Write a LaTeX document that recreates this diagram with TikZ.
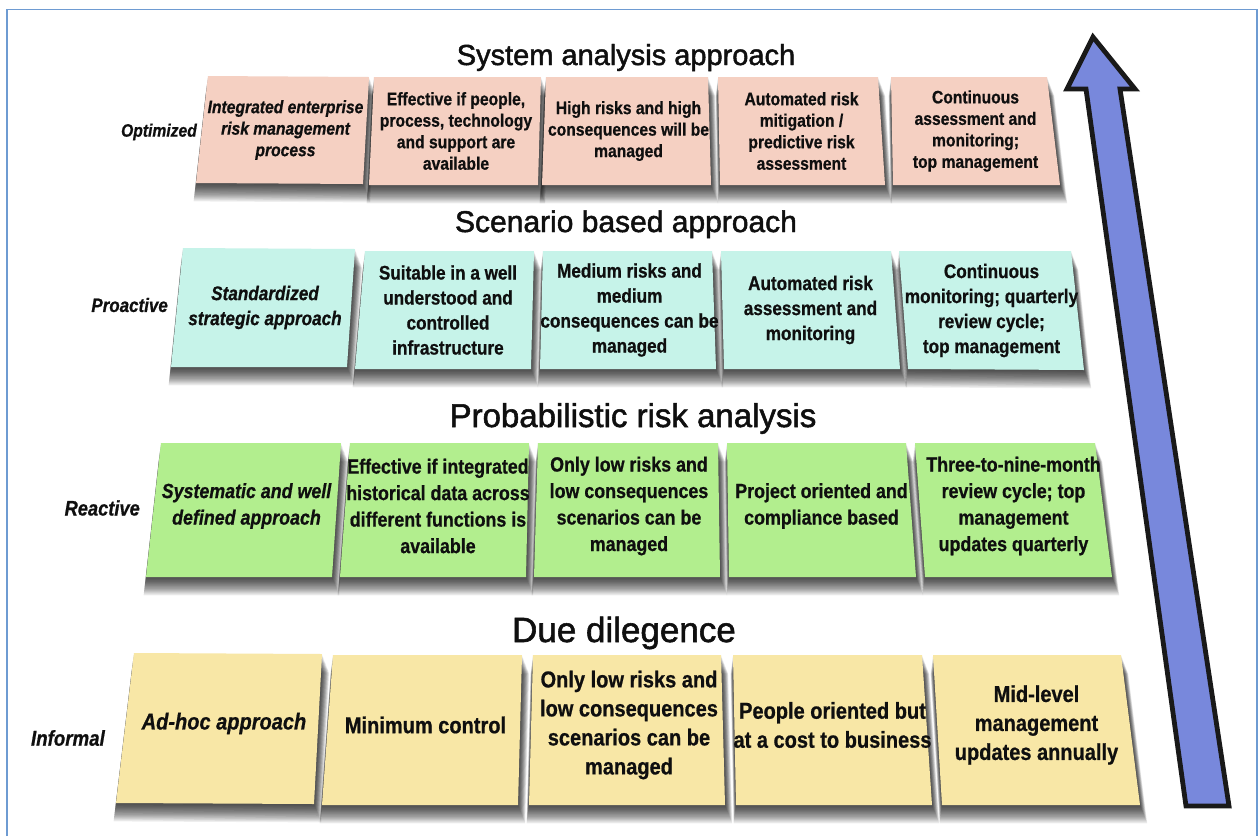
\documentclass[tikz,border=0pt]{standalone}
\usepackage{fontspec}
\setmainfont{Liberation Sans}
\newfontfamily\bxfont[FakeStretch=0.87,FakeBold=0.7]{Liberation Sans}
\newfontfamily\ttlfont[FakeBold=1.6]{Liberation Sans}
\usetikzlibrary{calc}
\definecolor{pinkc}{RGB}{245,208,194}
\definecolor{cyanc}{RGB}{198,243,233}
\definecolor{greenc}{RGB}{178,238,142}
\definecolor{yellowc}{RGB}{248,231,166}
\definecolor{arrowc}{RGB}{120,136,220}
\definecolor{framec}{RGB}{110,155,210}
\definecolor{inkc}{RGB}{15,15,15}
\newcommand\mcard[8]{%
  \foreach \k in {1,...,16}{%
    \fill[black,opacity=0.065] ($(#3)+(-0.15*\k,1.15*\k)$) -- ($(#4)+(0.45*\k,1.15*\k)$) -- ($(#5)+(0.45*\k,1.15*\k)$) -- ($(#6)+(-0.15*\k,1.15*\k)$) -- cycle;}
  \fill[#2] (#3) -- (#4) -- (#5) -- (#6) -- cycle;
  \node[#7] (#1) at ($(#3)!0.5!(#5)$) {#8};
}
\tikzset{
  card/.style={align=center, text=inkc, inner sep=0pt},
  fa/.style={card, font=\bxfont\bfseries\fontsize{18}{21.5}\selectfont},
  fai/.style={card, font=\bxfont\bfseries\itshape\fontsize{18}{21.5}\selectfont},
  fb/.style={card, font=\bxfont\bfseries\fontsize{19.7}{25}\selectfont},
  fbi/.style={card, font=\bxfont\bfseries\itshape\fontsize{19.7}{25}\selectfont},
  fc/.style={card, yshift=4pt, font=\bxfont\bfseries\fontsize{20.5}{26.5}\selectfont},
  fci/.style={card, yshift=4pt, font=\bxfont\bfseries\itshape\fontsize{20.5}{26.5}\selectfont},
  fd/.style={card, yshift=5pt, font=\bxfont\bfseries\fontsize{23}{29}\selectfont},
  fdi/.style={card, yshift=5pt, font=\bxfont\bfseries\itshape\fontsize{23}{29}\selectfont},
  lab/.style={font=\bxfont\bfseries\itshape\fontsize{#1}{#1}\selectfont, text=inkc, anchor=east, inner sep=0pt},
  ttl/.style={font=\ttlfont\fontsize{#1}{#1}\selectfont, text=inkc, anchor=base, inner sep=0pt},
}
\begin{document}
\begin{tikzpicture}[x=1pt,y=-1pt]
\useasboundingbox (0,0) rectangle (1259,836);
\fill[white] (0,0) rectangle (1259,836);
\draw[framec, line width=1.6pt] (7,836) -- (7,9.5) -- (1257,9.5) -- (1257,836);

% titles
\node[ttl=29] (t1) at (626,65) {System analysis approach};
\node[ttl=30] (t2) at (626,232) {Scenario based approach};
\node[ttl=33] (t3) at (633,427) {Probabilistic risk analysis};
\node[ttl=35] (t4) at (624,642) {Due dilegence};

% level labels
\node[lab=18] (l1) at (197,132) {Optimized};
\node[lab=19.5] (l2) at (168,305) {Proactive};
\node[lab=21] (l3) at (140,508) {Reactive};
\node[lab=21.5] (l4) at (105,738) {Informal};

% row 1
\mcard{a1}{pinkc}{208,76}{369,77}{363,184}{196,183}{fai}{Integrated enterprise\\risk management\\process}
\mcard{a2}{pinkc}{374,77}{541,77}{538,185}{369,185}{fa}{Effective if people,\\process, technology\\and support are\\available}
\mcard{a3}{pinkc}{546,77}{708,77}{711,185}{542,185}{fa}{High risks and high\\consequences will be\\managed}
\mcard{a4}{pinkc}{718,77}{878,77}{885,185}{720,185}{fa}{Automated risk\\mitigation /\\predictive risk\\assessment}
\mcard{a5}{pinkc}{891,77}{1047,77}{1060,185}{893,185}{fa}{Continuous\\assessment and\\monitoring;\\top management}

% row 2
\mcard{b1}{cyanc}{183,248}{355,249}{347,367}{171,367}{fbi}{Standardized\\strategic approach}
\mcard{b2}{cyanc}{365,251}{534,251}{531,369}{355,369}{fb}{Suitable in a well\\understood and\\controlled\\infrastructure}
\mcard{b3}{cyanc}{543,251}{712,251}{716,369}{540,369}{fb}{Medium risks and\\medium\\consequences can be\\managed}
\mcard{b4}{cyanc}{721,251}{891,251}{900,369}{724,369}{fb}{Automated risk\\assessment and\\monitoring}
\mcard{b5}{cyanc}{899,251}{1071,251}{1084,370}{908,369}{fb}{Continuous\\monitoring; quarterly\\review cycle;\\top management}

% row 3
\mcard{c1}{greenc}{161,443}{341,443}{332,577}{146,577}{fci}{Systematic and well\\defined approach}
\mcard{c2}{greenc}{350,443}{529,443}{526,577}{340,577}{fc}{Effective if integrated\\historical data across\\different functions is\\available}
\mcard{c3}{greenc}{538,443}{718,443}{720,577}{534,577}{fc}{Only low risks and\\low consequences\\scenarios can be\\managed}
\mcard{c4}{greenc}{727,443}{906,443}{916,577}{729,577}{fc}{Project oriented and\\compliance based}
\mcard{c5}{greenc}{915,443}{1095,443}{1112,577}{925,577}{fc}{Three-to-nine-month\\review cycle; top\\management\\updates quarterly}

% row 4
\mcard{d1}{yellowc}{134,653}{322,654}{314,804}{116,803}{fdi}{Ad-hoc approach}
\mcard{d2}{yellowc}{333,655}{522,655}{518,805}{322,805}{fd}{Minimum control}
\mcard{d3}{yellowc}{533,655}{721,655}{725,805}{529,805}{fd}{Only low risks and\\low consequences\\scenarios can be\\managed}
\mcard{d4}{yellowc}{733,655}{922,655}{932,805}{736,805}{fd}{People oriented but\\at a cost to business}
\mcard{d5}{yellowc}{933,655}{1121,655}{1140,805}{942,805}{fd}{Mid-level\\management\\updates annually}

% big arrow
\draw[line width=4.8pt, line join=miter, fill=arrowc, draw=black!90]
  (1093,37) -- (1135,89) -- (1120,89) -- (1229,806) -- (1186,806) -- (1086,89) -- (1067,89) -- cycle;
\end{tikzpicture}
\end{document}
